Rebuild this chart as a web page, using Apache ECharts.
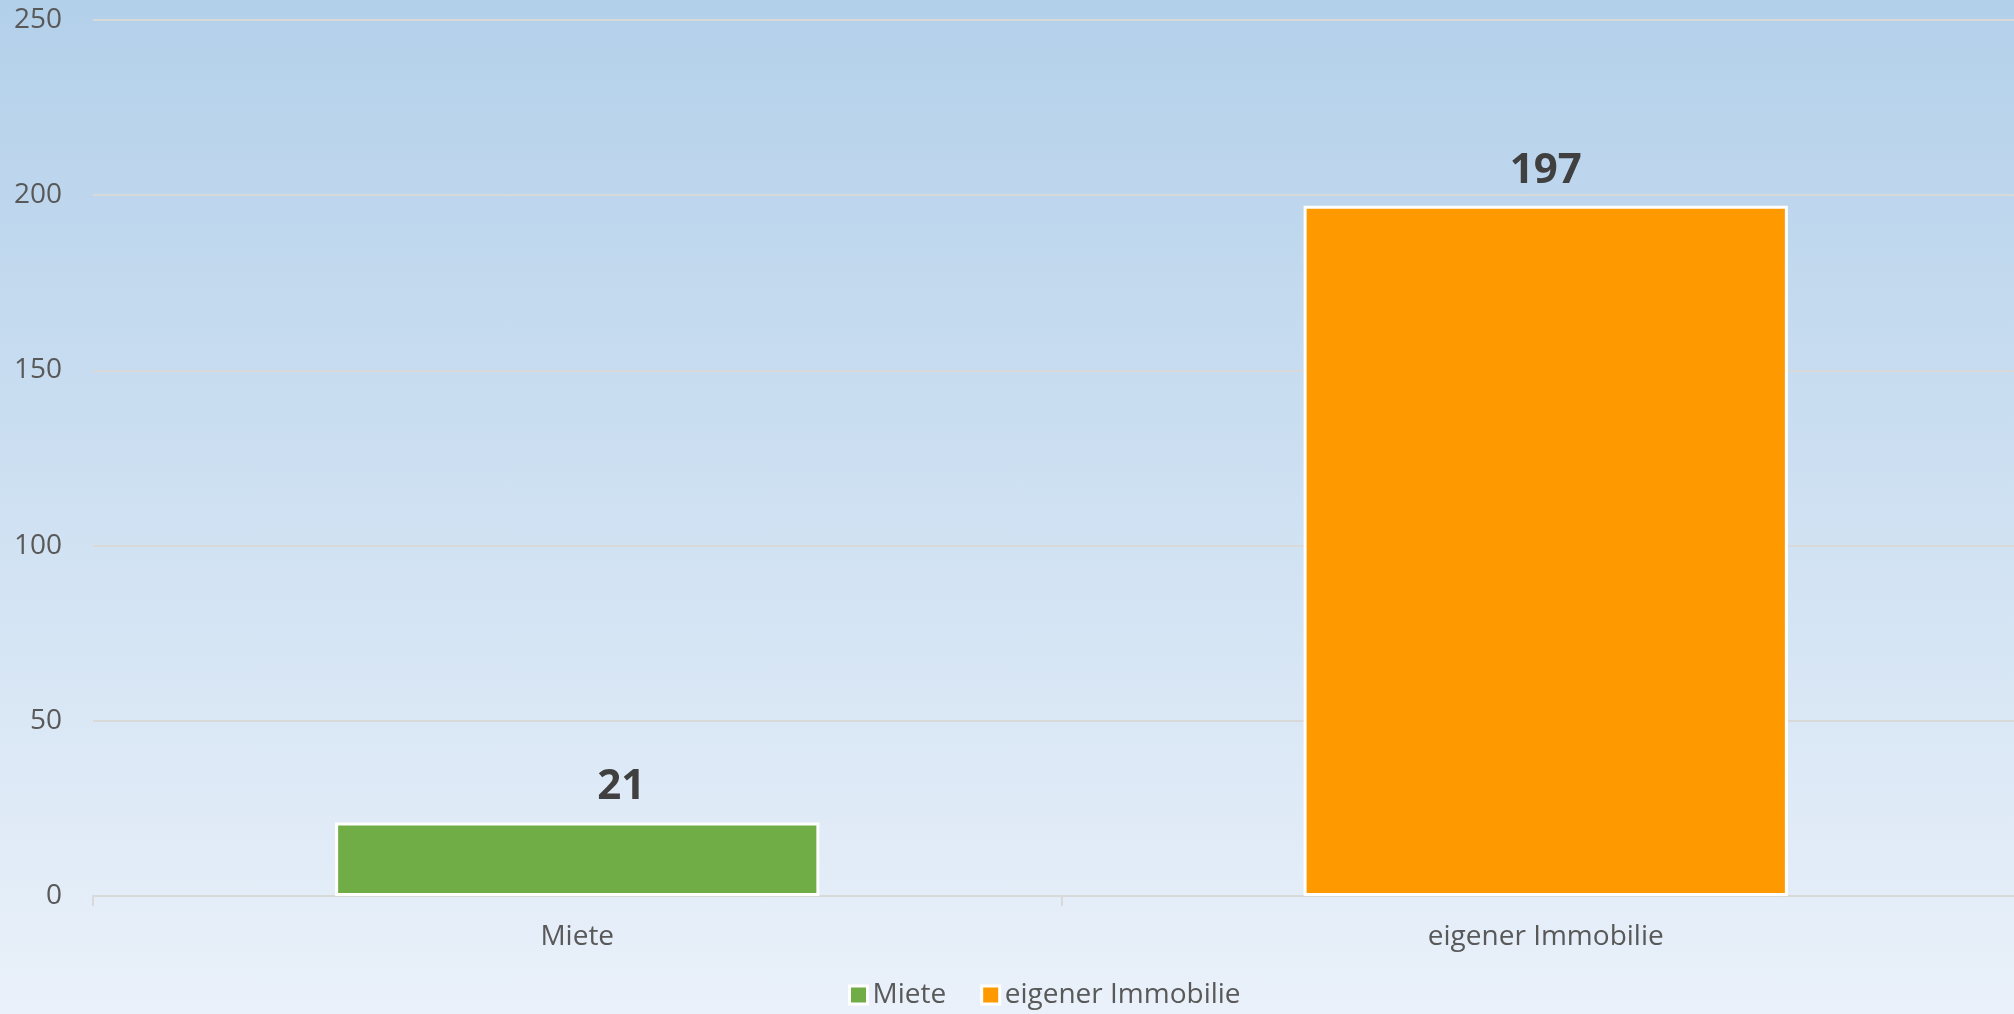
<!DOCTYPE html>
<html>
<head>
<meta charset="utf-8">
<script src="https://cdn.jsdelivr.net/npm/echarts@6/dist/echarts.min.js"></script>
<style>
  html, body { margin: 0; padding: 0; }
  #chart {
    width: 2014px;
    height: 1014px;
    background: linear-gradient(to bottom, #b3d0ea 0%, #eaf1fa 100%);
  }
</style>
</head>
<body>
<div id="chart"></div>
<script>
const categories = ['Miete', 'eigener Immobilie'];
const mieteValues = [21, null];
const immobilieValues = [null, 197];
const yTicks = { min: 0, max: 250, interval: 50 };

const fontFamily = '"Open Sans", "Noto Sans", sans-serif';

const chart = echarts.init(document.getElementById('chart'), null, { renderer: 'canvas' });

const barLabel = {
  show: true,
  position: 'top',
  distance: 14,
  fontSize: 42,
  fontWeight: 'bold',
  fontFamily: fontFamily,
  color: '#404040'
};

const option = {
  backgroundColor: 'transparent',
  animation: false,
  grid: {
    left: 93,
    right: -16,
    top: 20,
    bottom: 118,
    outerBoundsMode: 'none',
    containLabel: false
  },
  legend: {
    data: categories,
    bottom: 0,
    left: 843,
    icon: 'rect',
    itemWidth: 18,
    itemHeight: 18,
    itemGap: 34,
    textStyle: { fontSize: 28, fontFamily: fontFamily, color: '#595959' },
    itemStyle: { borderColor: '#ffffff', borderWidth: 3 }
  },
  xAxis: {
    type: 'category',
    data: categories,
    axisLine: { lineStyle: { color: '#d9d9d9', width: 2 } },
    axisTick: { show: true, length: 10, lineStyle: { color: '#d9d9d9', width: 2 } },
    axisLabel: { fontSize: 28, fontFamily: fontFamily, color: '#595959', margin: 27 }
  },
  yAxis: {
    type: 'value',
    min: yTicks.min,
    max: yTicks.max,
    interval: yTicks.interval,
    axisLine: { show: false },
    axisTick: { show: false },
    splitLine: { lineStyle: { color: '#d9d9d9', width: 2 } },
    axisLabel: { fontSize: 28, fontFamily: fontFamily, color: '#595959', margin: 31 }
  },
  series: [
    {
      name: categories[0],
      type: 'bar',
      data: mieteValues,
      barWidth: '50%',
      barGap: '-100%',
      itemStyle: { color: '#70ad47', borderColor: '#ffffff', borderWidth: 3 },
      // label sits a bit right of the bar centre in the original
      label: Object.assign({}, barLabel, { offset: [44, 0] })
    },
    {
      name: categories[1],
      type: 'bar',
      data: immobilieValues,
      barWidth: '50%',
      barGap: '-100%',
      itemStyle: { color: '#ff9900', borderColor: '#ffffff', borderWidth: 3 },
      label: barLabel
    }
  ]
};

chart.setOption(option);
</script>
</body>
</html>
